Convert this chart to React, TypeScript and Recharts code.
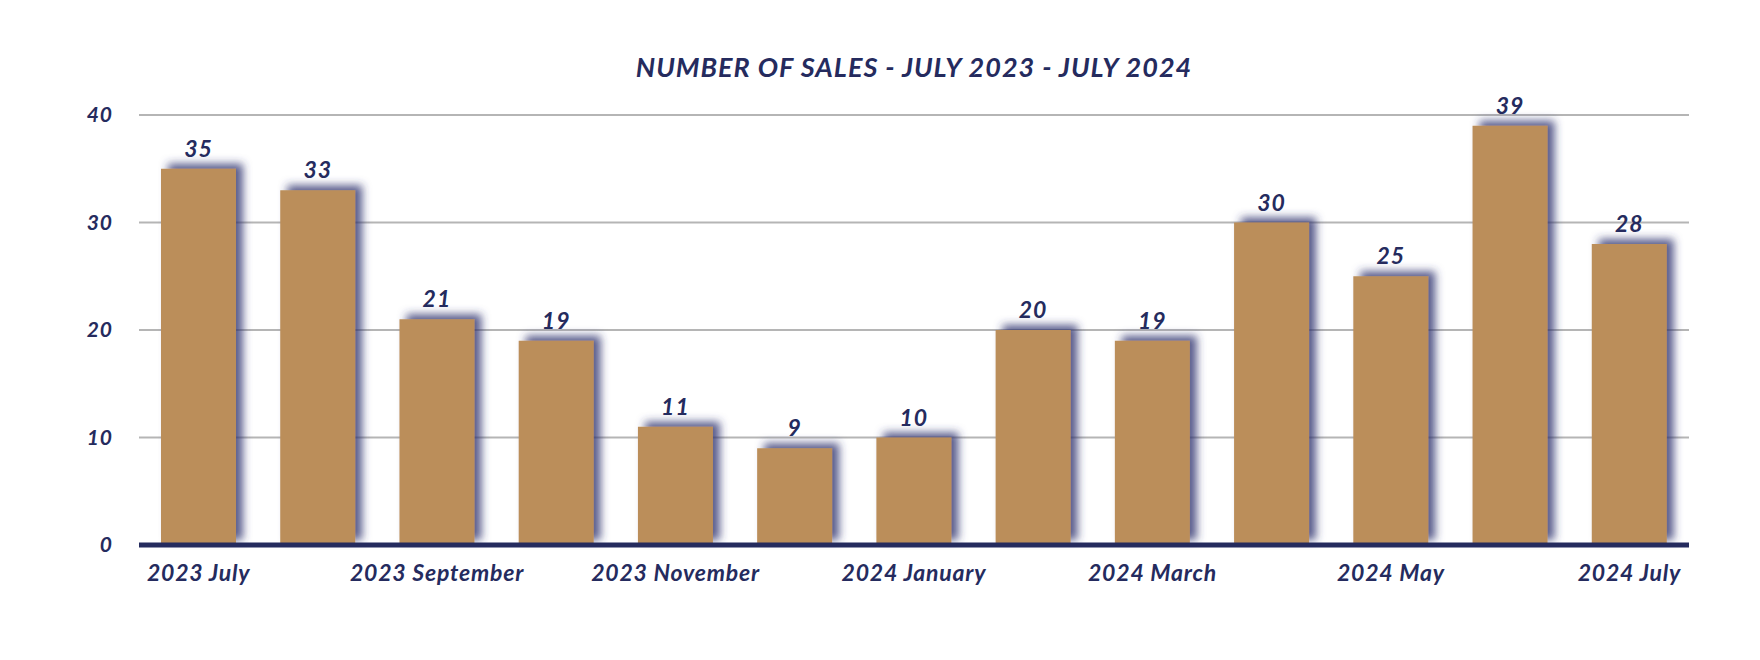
import React from 'react';
import { BarChart, Bar, XAxis, YAxis, CartesianGrid, LabelList } from 'recharts';

const months = [
  '2023 July', '2023 August', '2023 September', '2023 October', '2023 November', '2023 December',
  '2024 January', '2024 February', '2024 March', '2024 April', '2024 May', '2024 June', '2024 July',
];
const sales = [35, 33, 21, 19, 11, 9, 10, 20, 19, 30, 25, 39, 28];
const yTicks = [0, 10, 20, 30, 40];
const title = 'NUMBER OF SALES - JULY 2023 - JULY 2024';

const data = months.map((m, i) => ({ month: m, sales: sales[i] }));

const NAVY = '#252B5E';
const GOLD = '#BB8E5A';
const FONT = 'Lato, "Open Sans", sans-serif';

const ShadowBar = (props: any) => {
  const { x, y, width, height } = props;
  if (height <= 0) return null;
  return <rect x={x} y={y} width={width} height={height} fill={GOLD} filter="url(#barShadow)" />;
};

export default function App() {
  return (
    <div style={{ position: 'absolute', left: 0, top: 0, width: 1760, height: 660, background: '#fff', fontFamily: FONT }}>
      <svg width={0} height={0} style={{ position: 'absolute' }}>
        <defs>
          <filter id="barShadow" x="-30%" y="-30%" width="160%" height="160%">
            <feDropShadow dx={7} dy={-5} stdDeviation={4} floodColor="#2e3670" floodOpacity={0.8} />
          </filter>
        </defs>
      </svg>
      <div
        style={{
          position: 'absolute', left: 139, width: 1550, top: 49, textAlign: 'center',
          color: NAVY, fontSize: 27, fontWeight: 700, fontStyle: 'italic', fontFamily: FONT, lineHeight: '36px',
          letterSpacing: 1,
        }}
      >
        {title}
      </div>
      <BarChart
        width={1760}
        height={660}
        data={data}
        margin={{ top: 115, right: 71, bottom: 0, left: 0 }}
        barCategoryGap={22}
      >
        <CartesianGrid vertical={false} stroke="#b5b5b5" strokeWidth={2} />
        <YAxis
          width={139}
          domain={[0, 40]}
          ticks={yTicks}
          axisLine={false}
          tickLine={false}
          tickSize={0}
          tickMargin={26}
          tick={{ fill: NAVY, fontSize: 21, fontWeight: 700, fontStyle: 'italic', fontFamily: FONT, letterSpacing: 1 }}
        />
        <XAxis
          dataKey="month"
          height={115}
          interval={1}
          tickLine={false}
          tickSize={0}
          tickMargin={20}
          axisLine={{ stroke: NAVY, strokeWidth: 5 }}
          tick={{ fill: NAVY, fontSize: 23, fontWeight: 700, fontStyle: 'italic', fontFamily: FONT, letterSpacing: 0.8 }}
        />
        <Bar dataKey="sales" fill={GOLD} barSize={75} shape={<ShadowBar />} isAnimationActive={false}>
          <LabelList
            dataKey="sales"
            position="top"
            offset={12}
            fill={NAVY}
            style={{ fontSize: 23, fontWeight: 700, fontStyle: 'italic', fontFamily: FONT, letterSpacing: 1 }}
          />
        </Bar>
      </BarChart>
    </div>
  );
}
